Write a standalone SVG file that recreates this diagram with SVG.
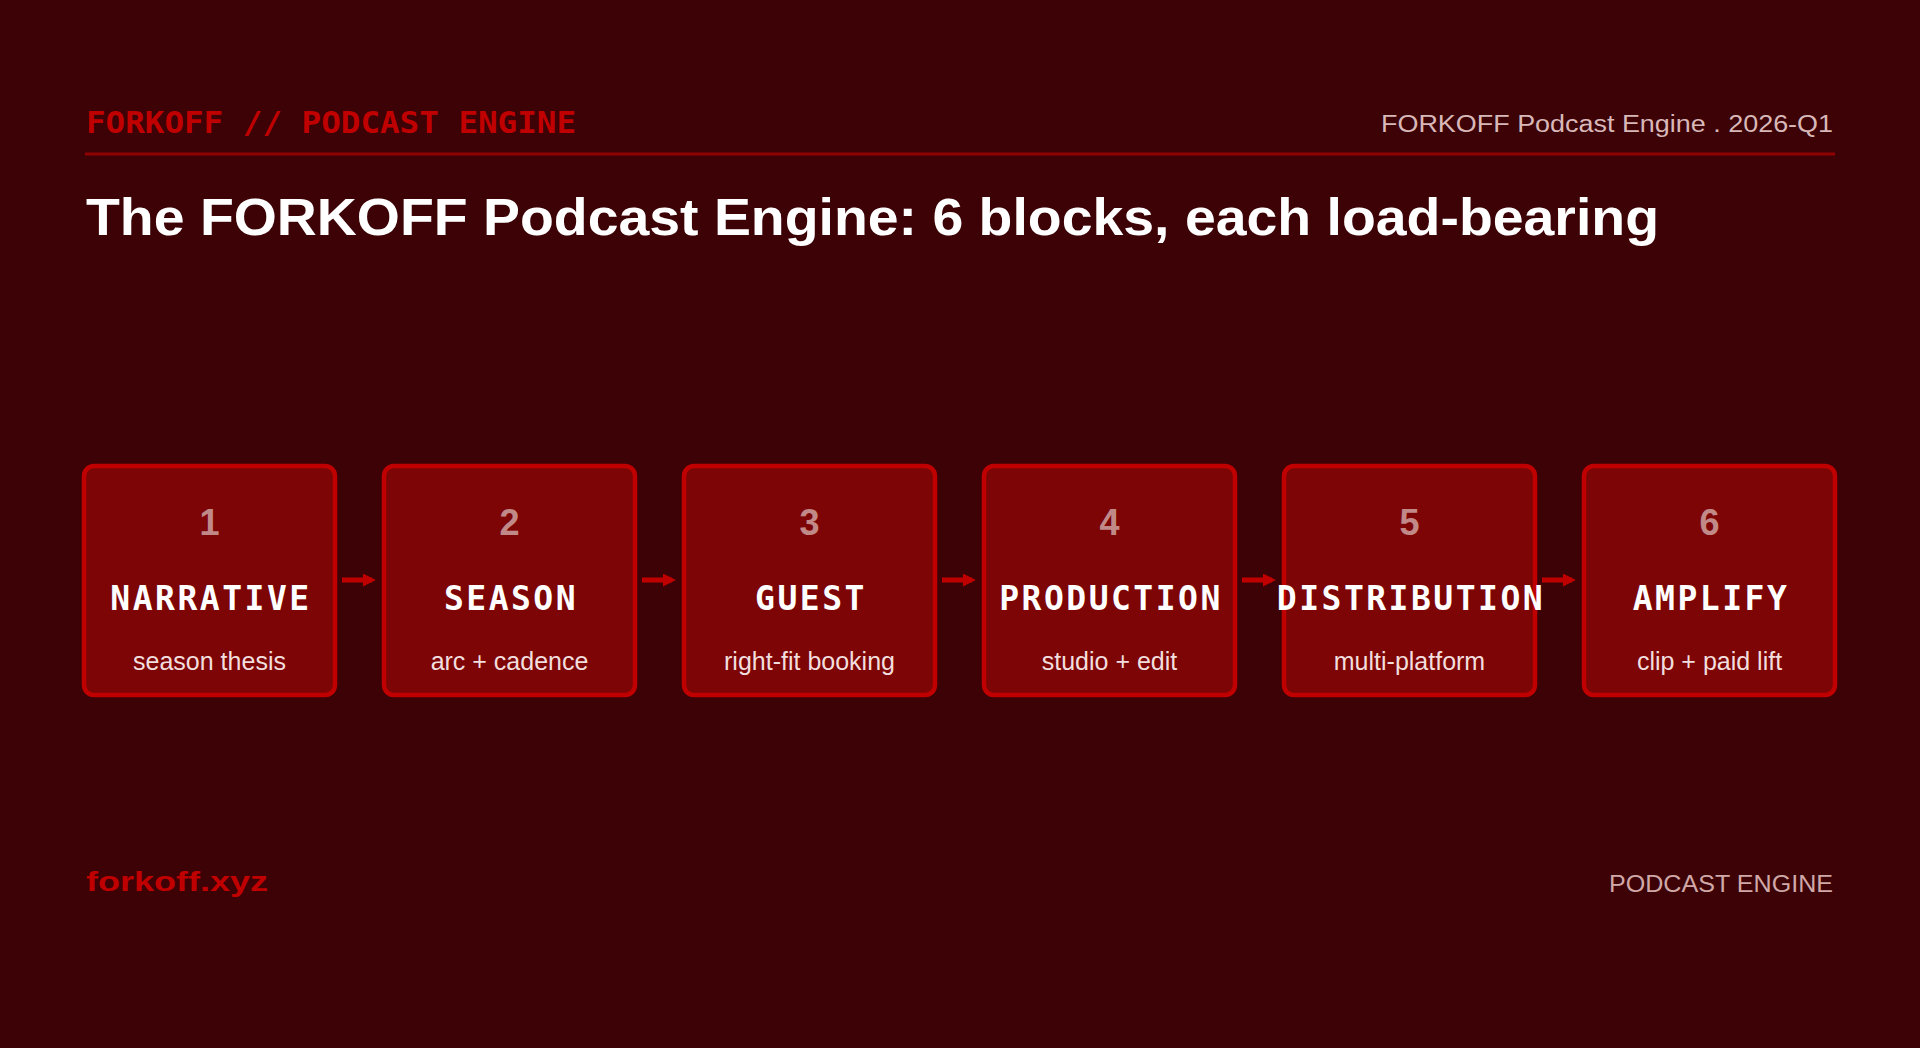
<svg xmlns="http://www.w3.org/2000/svg" width="1920" height="1048" viewBox="0 0 1920 1048">
<defs>
<style>
.hdr{font-family:"DejaVu Sans Mono","Liberation Mono",monospace;font-weight:bold;font-size:30px;fill:#c00000}
.hdrr{font-family:"Liberation Sans","DejaVu Sans",sans-serif;font-size:23px;fill:#d8b8b8}
.title{font-family:"Liberation Sans","DejaVu Sans",sans-serif;font-weight:bold;font-size:52px;fill:#ffffff}
.box{fill:#7d0505;stroke:#c00000;stroke-width:4.5}
.num{font-family:"Liberation Sans","DejaVu Sans",sans-serif;font-weight:bold;font-size:36px;fill:#ffffff;fill-opacity:0.55;text-anchor:middle}
.name{font-family:"DejaVu Sans Mono","Liberation Mono",monospace;font-weight:bold;font-size:33px;fill:#ffffff;text-anchor:middle;letter-spacing:2.5px}
.sub{font-family:"Liberation Sans","DejaVu Sans",sans-serif;font-size:25px;fill:#f2dede;text-anchor:middle}
.foot{font-family:"Liberation Sans","DejaVu Sans",sans-serif;font-weight:bold;font-size:28px;fill:#c00000}
.footr{font-family:"Liberation Sans","DejaVu Sans",sans-serif;font-size:23px;fill:#d0a8a8;text-anchor:end}
.conn{stroke:#c00000;stroke-width:5;fill:none;marker-end:url(#ah)}
</style>
<marker id="ah" viewBox="0 0 10 10" refX="7" refY="5" markerWidth="2.6" markerHeight="2.6" orient="auto" markerUnits="strokeWidth">
<path d="M0,0 L10,5 L0,10 z" fill="#c00000"/>
</marker>
</defs>
<rect x="0" y="0" width="1920" height="1048" fill="#3c0206"/>
<g id="header">
<text class="hdr" x="86" y="133" textLength="490" lengthAdjust="spacingAndGlyphs">FORKOFF // PODCAST ENGINE</text>
<text class="hdrr" x="1833" y="132" text-anchor="end" textLength="452" lengthAdjust="spacingAndGlyphs">FORKOFF Podcast Engine . 2026-Q1</text>
<rect x="85" y="152.5" width="1750" height="3" fill="#8f0000"/>
<text class="title" x="86" y="235" textLength="1573" lengthAdjust="spacingAndGlyphs">The FORKOFF Podcast Engine: 6 blocks, each load-bearing</text>
</g>
<g id="connectors">
<line class="conn" x1="342" y1="580" x2="372" y2="580"/>
<line class="conn" x1="642" y1="580" x2="672" y2="580"/>
<line class="conn" x1="942" y1="580" x2="972" y2="580"/>
<line class="conn" x1="1242" y1="580" x2="1272" y2="580"/>
<line class="conn" x1="1542" y1="580" x2="1572" y2="580"/>
</g>
<g id="node1">
<rect class="box" x="84" y="466" width="251" height="229" rx="10"/>
<text class="num" x="209.5" y="535">1</text>
<text class="name" x="211" y="610">NARRATIVE</text>
<text class="sub" x="209.5" y="670">season thesis</text>
</g>
<g id="node2">
<rect class="box" x="384" y="466" width="251" height="229" rx="10"/>
<text class="num" x="509.5" y="535">2</text>
<text class="name" x="511" y="610">SEASON</text>
<text class="sub" x="509.5" y="670">arc + cadence</text>
</g>
<g id="node3">
<rect class="box" x="684" y="466" width="251" height="229" rx="10"/>
<text class="num" x="809.5" y="535">3</text>
<text class="name" x="811" y="610">GUEST</text>
<text class="sub" x="809.5" y="670">right-fit booking</text>
</g>
<g id="node4">
<rect class="box" x="984" y="466" width="251" height="229" rx="10"/>
<text class="num" x="1109.5" y="535">4</text>
<text class="name" x="1111" y="610">PRODUCTION</text>
<text class="sub" x="1109.5" y="670">studio + edit</text>
</g>
<g id="node5">
<rect class="box" x="1284" y="466" width="251" height="229" rx="10"/>
<text class="num" x="1409.5" y="535">5</text>
<text class="name" x="1411" y="610">DISTRIBUTION</text>
<text class="sub" x="1409.5" y="670">multi-platform</text>
</g>
<g id="node6">
<rect class="box" x="1584" y="466" width="251" height="229" rx="10"/>
<text class="num" x="1709.5" y="535">6</text>
<text class="name" x="1711" y="610">AMPLIFY</text>
<text class="sub" x="1709.5" y="670">clip + paid lift</text>
</g>
<g id="footer">
<text class="foot" x="86" y="891" textLength="182" lengthAdjust="spacingAndGlyphs">forkoff.xyz</text>
<text class="footr" x="1833" y="892" textLength="224" lengthAdjust="spacingAndGlyphs">PODCAST ENGINE</text>
</g>
</svg>
